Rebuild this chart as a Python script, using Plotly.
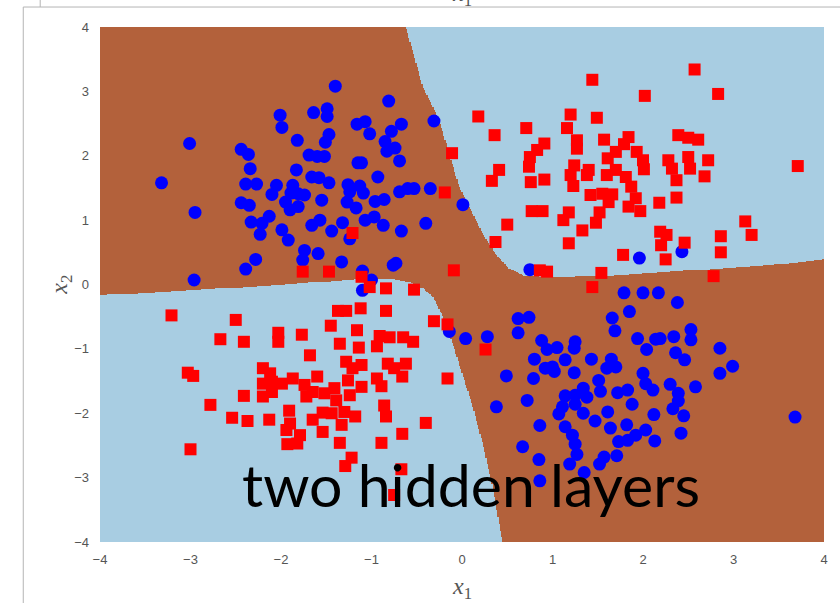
import numpy as np
import plotly.graph_objects as go

# ---- class 0 (blue circles): upper-left and lower-right clusters ----
blue_x1 = [
    -1.40, -0.81, -2.01, -1.64, -1.49, -1.49, -1.99, -1.16, -1.07, -1.02, -0.67, -0.78, -0.31,
    -1.47, -1.51, -1.82, -3.01, -2.44, -2.36, -0.85, -0.74, -0.83, -0.69, -1.69, -1.60, -1.52,
    -1.15, -1.11, -2.34, -1.83, -0.93, -1.66, -1.58, -3.32, -2.39, -2.27, -2.05, -2.10, -1.87,
    -1.89, -1.81, -1.74, -1.47, -1.26, -1.13, -1.24, -1.09, -0.69, -0.60, -0.53, -0.35, -2.44,
    -2.35, -1.95, -1.90, -1.81, -1.55, -1.27, -1.17, -0.96, -0.86, -2.95, -2.13, -2.33, -2.21,
    -2.23, -1.99, -1.92, -1.66, -1.57, -1.44, -1.32, -1.24, -1.07, -0.97, -0.87, -0.67, -0.40,
    -1.74, -1.76, -1.59, -1.33, -0.76, -0.73, -2.28, -2.39, -2.96, -1.10, -1.00, -1.10,
    0.01, 0.75, 1.96, 2.43, -0.14,
    1.79, 2.00, 2.17, 2.38, 1.85, 1.66, 1.69, 0.62, 0.74, 0.62, 0.04, 0.28, 1.94, 2.04, 2.14,
    2.19, 2.34, 2.53, 2.53, 2.36, 2.46, 2.85, 2.99, 2.85, 0.88, 0.94, 1.05, 1.25, 1.24, 0.80,
    1.14, 1.43, 1.65, 1.70, 1.60, 0.92, 1.00, 1.02, 1.24, 0.79, 0.49, 2.00, 2.03, 2.11, 2.30,
    2.39, 2.39, 2.58, 1.51, 1.53, 1.72, 1.83, 1.34, 1.14, 1.25, 1.38, 1.25, 1.11, 1.07, 1.34,
    1.88, 0.72, 0.38, 1.61, 1.47, 1.64, 1.82, 2.03, 2.12, 2.33, 2.45, 2.42, 3.68, 0.86, 1.14,
    1.22, 1.25, 1.27, 1.73, 1.83, 1.92, 2.13, 0.67, 0.85, 1.19, 1.35, 1.52, 1.57, 1.71, 0.86,
]
blue_x2 = [
    3.08, 2.85, 2.63, 2.67, 2.73, 2.61, 2.44, 2.49, 2.53, 2.34, 2.49, 2.38, 2.54,
    2.33, 2.21, 2.24, 2.19, 2.10, 2.02, 2.22, 2.12, 2.07, 1.92, 2.01, 1.99, 1.99,
    1.89, 1.89, 1.80, 1.78, 1.67, 1.67, 1.66, 1.58, 1.56, 1.56, 1.54, 1.40, 1.54,
    1.42, 1.41, 1.39, 1.58, 1.55, 1.53, 1.44, 1.42, 1.44, 1.49, 1.49, 1.49, 1.27,
    1.23, 1.28, 1.16, 1.21, 1.31, 1.28, 1.19, 1.29, 1.32, 1.12, 1.06, 0.97, 0.95,
    0.78, 0.85, 0.69, 0.92, 1.00, 0.83, 0.96, 0.71, 1.00, 1.05, 0.92, 0.83, 0.95,
    0.53, 0.38, 0.48, 0.35, 0.30, 0.33, 0.39, 0.24, 0.07, 0.21, 0.07, -0.09,
    1.24, 0.23, 0.41, 0.51, -0.73,
    -0.13, -0.13, -0.13, -0.28, -0.42, -0.52, -0.72, -0.53, -0.51, -0.75, -0.84, -0.81, -0.84, -1.01, -0.85,
    -0.84, -0.81, -0.70, -0.86, -1.06, -1.17, -0.99, -1.27, -1.38, -0.87, -1.01, -0.98, -0.89, -0.99, -1.16,
    -1.17, -1.16, -1.16, -1.28, -1.30, -1.30, -1.28, -1.35, -1.37, -1.46, -1.42, -1.38, -1.54, -1.64, -1.55,
    -1.69, -1.81, -1.59, -1.49, -1.66, -1.68, -1.64, -1.61, -1.73, -1.72, -1.75, -1.86, -1.90, -2.01, -2.00,
    -1.86, -1.80, -1.90, -1.98, -2.12, -2.23, -2.18, -2.26, -2.02, -1.93, -2.04, -2.31, -2.06, -2.19, -2.21,
    -2.34, -2.48, -2.64, -2.44, -2.42, -2.34, -2.43, -2.52, -2.72, -2.79, -2.92, -2.79, -2.68, -2.66, -3.05,
]

# ---- class 1 (red squares): upper-right and lower-left clusters ----
red_x1 = [
    2.57, 1.44, 2.02, 2.83, 0.18, 1.20, 1.49, 0.36, 0.71, 1.16, 0.91, 0.83, 1.27, 1.27, 1.57,
    1.84, 1.79, 1.70, 1.93, 2.00, 2.01, 2.39, 2.50, 2.61, 0.75, 0.74, 1.24, 1.20, 1.40, 1.38,
    1.61, 1.60, 1.70, 1.81, 1.87, 2.28, 2.32, 2.37, 2.50, 2.52, 2.72, 2.68, 0.41, 0.33, 0.76,
    0.91, 1.23, 1.42, 1.55, 1.66, 1.62, 1.92, 1.84, 1.97, 2.18, 2.37, 0.77, 0.89, 1.18, 1.12,
    1.52, 1.48, 0.50, 0.37, 1.33, 1.18, 2.19, 2.26, 2.20, 2.46, 1.78, 2.25, 2.86, 2.86, 3.13,
    3.20, 3.71, 0.86, 0.94, 1.54, 2.78, 1.44, -0.11, -0.19, -0.09,
    -1.21, -1.76, -1.47, -1.11, -1.02, -0.84, -0.53, 0.26,
    -3.21, -2.50, -2.67, -2.41, -2.03, -2.03, -1.77, -1.37, -1.28, -1.12, -0.84, -1.45, -1.16,
    -1.35, -1.14, -0.91, -0.80, -0.65, -0.54, -0.94, -0.31, -0.16, -1.68, -3.03, -2.97, -2.20,
    -2.12, -1.28, -1.11, -1.21, -0.82, -0.75, -0.62, -0.66, -0.16, -2.78, -2.41, -2.20, -2.20,
    -2.10, -2.10, -1.99, -1.87, -1.74, -1.60, -1.65, -1.72, -1.52, -1.41, -1.39, -1.26, -1.24,
    -1.11, -0.94, -0.89, -0.86, -0.84, -1.91, -2.54, -2.37, -2.13, -1.65, -1.54, -1.44, -1.30,
    -1.18, -1.33, -1.90, -1.94, -1.79, -1.54, -0.40, -0.66, -1.93, -1.82, -1.35, -0.89, -3.00,
    -1.22, -1.29, -0.67, -0.75,
]
red_x2 = [
    3.34, 3.18, 2.93, 2.96, 2.61, 2.64, 2.59, 2.32, 2.43, 2.43, 2.19, 2.09, 2.24, 2.11, 2.25,
    2.29, 2.18, 2.06, 2.06, 1.93, 1.79, 2.32, 2.28, 2.25, 1.98, 1.83, 1.85, 1.70, 1.78, 1.70,
    1.96, 1.70, 1.78, 1.67, 1.52, 1.93, 1.80, 1.62, 1.98, 1.80, 1.93, 1.68, 1.78, 1.61, 1.59,
    1.63, 1.53, 1.39, 1.41, 1.40, 1.28, 1.34, 1.21, 1.14, 1.27, 1.35, 1.14, 1.14, 1.12, 1.00,
    1.12, 0.96, 0.93, 0.66, 0.84, 0.64, 0.82, 0.77, 0.61, 0.65, 0.46, 0.39, 0.75, 0.50, 0.98,
    0.77, 1.84, 0.22, 0.20, 0.18, 0.13, -0.04, 2.04, 1.43, 0.22,
    0.80, 0.20, 0.20, 0.12, -0.04, -0.06, -0.08, -1.01,
    -0.48, -0.55, -0.85, -0.89, -0.75, -0.89, -0.78, -0.41, -0.41, -0.37, -0.41, -0.64, -0.71,
    -0.92, -0.98, -0.80, -0.82, -0.82, -0.89, -0.96, -0.57, -0.62, -1.10, -1.37, -1.42, -1.30,
    -1.38, -1.20, -1.25, -1.30, -1.23, -1.30, -1.23, -1.43, -1.46, -1.87, -1.73, -1.54, -1.74,
    -1.67, -1.51, -1.54, -1.46, -1.56, -1.43, -1.67, -1.74, -1.69, -1.61, -1.80, -1.49, -1.72,
    -1.59, -1.46, -1.58, -1.88, -2.05, -1.96, -2.07, -2.12, -2.10, -2.10, -1.99, -2.00, -1.98,
    -2.05, -2.18, -2.16, -2.26, -2.34, -2.29, -2.15, -2.32, -2.48, -2.47, -2.46, -2.46, -2.56,
    -2.69, -2.82, -2.87, -3.27,
]

# ---- decision boundaries of the trained network (x2 as a function of x1) ----
upper_x1 = [-0.62, -0.43, -0.25, -0.14, -0.03, 0.08, 0.23, 0.37, 0.52, 0.70, 1.0, 1.5, 2.3, 3.4, 4.0]
upper_x2 = [4.0, 3.07, 2.55, 2.03, 1.52, 1.21, 0.79, 0.48, 0.25, 0.13, 0.11, 0.13, 0.20, 0.30, 0.39]
lower_x1 = [-4.0, -3.0, -1.9, -1.17, -0.8, -0.58, -0.43, -0.32, -0.21, -0.10, -0.01, 0.12, 0.23, 0.34, 0.45]
lower_x2 = [-0.165, -0.09, 0.005, 0.083, 0.093, 0.04, -0.06, -0.19, -0.50, -0.92, -1.33, -1.90, -2.47, -3.14, -4.0]

tick_vals = [-4, -3, -2, -1, 0, 1, 2, 3, 4]

BROWN = "#b3613b"
LIGHT_BLUE = "#a8cde2"

# predicted class on a fine grid: 0 = light blue region, 1 = brown region
gx = np.linspace(-4, 4, 601)
gy = np.linspace(-4, 4, 601)
GX, GY = np.meshgrid(gx, gy)
upper_region = (GX >= upper_x1[0]) & (GY > np.interp(GX, upper_x1, upper_x2))
lower_region = (GX <= lower_x1[-1]) & (GY < np.interp(GX, lower_x1, lower_x2))
Z = np.where(upper_region | lower_region, 0, 1)

fig = go.Figure()
fig.add_trace(go.Heatmap(
    x=gx, y=gy, z=Z, zmin=0, zmax=1,
    colorscale=[[0, LIGHT_BLUE], [0.5, LIGHT_BLUE], [0.5, BROWN], [1, BROWN]],
    showscale=False, hoverinfo="skip",
))
fig.add_trace(go.Scatter(
    x=blue_x1, y=blue_x2, mode="markers",
    marker=dict(symbol="circle", size=13, color="#0000ff", line=dict(width=0)),
))
fig.add_trace(go.Scatter(
    x=red_x1, y=red_x2, mode="markers",
    marker=dict(symbol="square", size=12, color="#ff0000", line=dict(width=0)),
))

tick_font = dict(family="Liberation Sans, Arial, sans-serif", size=13, color="#555555")
math_font = dict(family="Liberation Serif, DejaVu Serif, serif", size=24, color="#555555")

fig.update_layout(
    width=840, height=603,
    margin=dict(l=100, r=14, t=27, b=61),
    paper_bgcolor="white", plot_bgcolor="white",
    showlegend=False,
    xaxis=dict(range=[-4, 4], tickvals=tick_vals, showgrid=False, zeroline=False,
               showline=False, ticks="", tickfont=tick_font, ticklabelstandoff=8),
    yaxis=dict(range=[-4, 4], tickvals=tick_vals, showgrid=False, zeroline=False,
               showline=False, ticks="", tickfont=tick_font, ticklabelstandoff=10),
    annotations=[
        dict(text="<i>x</i><sub>1</sub>", xref="paper", yref="paper", x=0.5, y=-0.089,
             xanchor="center", yanchor="middle", showarrow=False, font=math_font),
        dict(text="<i>x</i><sub>2</sub>", xref="paper", yref="paper", x=-0.055, y=0.5,
             xanchor="center", yanchor="middle", showarrow=False, font=math_font,
             textangle=-90),
        # axis title of the panel above, only its lower edge shows
        dict(text="<i>x</i><sub>1</sub>", xref="paper", yref="paper", x=0.5, y=1.062,
             xanchor="center", yanchor="middle", showarrow=False, font=math_font),
        dict(text="two hidden layers", xref="paper", yref="paper", x=0.194, y=0.111,
             xanchor="left", yanchor="middle", showarrow=False,
             font=dict(family="Lato, sans-serif", size=59, color="black")),
    ],
    shapes=[
        dict(type="line", xref="paper", yref="paper", x0=-0.106, x1=-0.106, y0=1.0388, y1=-0.2,
             line=dict(color="#b4b4b4", width=1)),
        dict(type="line", xref="paper", yref="paper", x0=-0.106, x1=1.1, y0=1.0388, y1=1.0388,
             line=dict(color="#b4b4b4", width=1)),
        dict(type="line", xref="paper", yref="paper", x0=-0.0826, x1=-0.0826, y0=1.0388, y1=1.1,
             line=dict(color="#b4b4b4", width=1)),
    ],
)

fig.write_html("out.html")
